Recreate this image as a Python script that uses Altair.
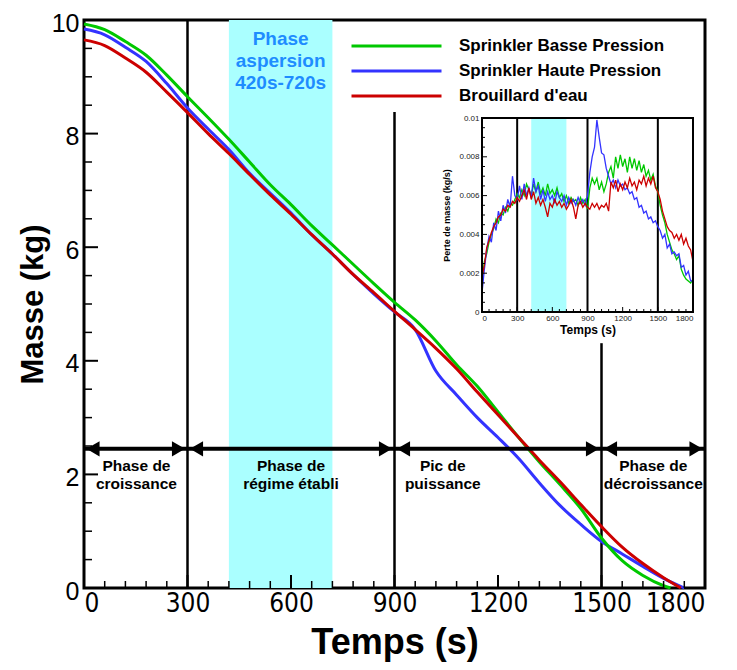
import altair as alt
import pandas as pd

SERIES = ["Sprinkler Basse Pression", "Sprinkler Haute Pression", "Brouillard d'eau"]
COLORS = ["#00c800", "#3333ff", "#cc0000"]

# ---- main chart: mass (kg) vs time (s)
green_t = [0, 60, 120, 180, 240, 300, 360, 420, 480, 540, 600, 660, 720, 780, 840, 900,
           960, 1020, 1080, 1140, 1200, 1260, 1320, 1380, 1440, 1500, 1560, 1620, 1680, 1700]
green_m = [9.93, 9.83, 9.62, 9.38, 9.03, 8.65, 8.28, 7.90, 7.50, 7.10, 6.75, 6.38, 6.04, 5.70, 5.36, 5.03,
           4.72, 4.35, 3.93, 3.55, 3.10, 2.65, 2.22, 1.82, 1.40, 0.88, 0.48, 0.22, 0.04, 0.0]
blue_t = [0, 60, 120, 180, 240, 300, 360, 420, 480, 540, 600, 660, 720, 780, 840, 900,
          960, 1020, 1080, 1140, 1200, 1260, 1320, 1380, 1440, 1500, 1560, 1620, 1680, 1740]
blue_m = [9.84, 9.74, 9.52, 9.27, 8.88, 8.45, 8.08, 7.72, 7.30, 6.95, 6.60, 6.22, 5.88, 5.52, 5.18, 4.86,
          4.55, 3.82, 3.40, 3.00, 2.65, 2.28, 1.85, 1.45, 1.12, 0.82, 0.60, 0.38, 0.17, 0.0]
red_t = [0, 60, 120, 180, 240, 300, 360, 420, 480, 540, 600, 660, 720, 780, 840, 900,
         960, 1020, 1080, 1140, 1200, 1260, 1320, 1380, 1440, 1500, 1560, 1620, 1680, 1730]
red_m = [9.65, 9.55, 9.33, 9.08, 8.73, 8.37, 8.00, 7.65, 7.28, 6.92, 6.58, 6.22, 5.88, 5.52, 5.20, 4.87,
         4.55, 4.22, 3.86, 3.45, 3.05, 2.65, 2.25, 1.87, 1.47, 1.08, 0.72, 0.43, 0.18, 0.0]

# ---- inset: mass loss rate (kg/s), every 20 s from 0 to 1800
rate_t = list(range(0, 1801, 20))
rate_blue = [
    0.0010, 0.0022, 0.0032, 0.0039, 0.0036, 0.0046, 0.0042, 0.0052, 0.0047, 0.0055,
    0.0051, 0.0058, 0.0054, 0.0070, 0.0060, 0.0058, 0.0065, 0.0058, 0.0066, 0.0060,
    0.0064, 0.0059, 0.0069, 0.0062, 0.0065, 0.0058, 0.0063, 0.0057, 0.0062, 0.0058,
    0.0060, 0.0056, 0.0062, 0.0059, 0.0057, 0.0060, 0.0055, 0.0059, 0.0056, 0.0058,
    0.0055, 0.0059, 0.0056, 0.0058, 0.0055, 0.0060, 0.0072, 0.0080, 0.0085, 0.0099,
    0.0090, 0.0082, 0.0081, 0.0074, 0.0070, 0.0066, 0.0068, 0.0064, 0.0068, 0.0065,
    0.0066, 0.0063, 0.0064, 0.0061, 0.0062, 0.0058, 0.0059, 0.0054, 0.0055, 0.0051,
    0.0052, 0.0048, 0.0049, 0.0046, 0.0047, 0.0044, 0.0042, 0.0038, 0.0040, 0.0033,
    0.0035, 0.0030, 0.0031, 0.0029, 0.0030, 0.0023, 0.0024, 0.0019, 0.0021, 0.0016,
    0.0016]
rate_green = [
    0.0015, 0.0026, 0.0030, 0.0036, 0.0040, 0.0043, 0.0048, 0.0046, 0.0051, 0.0050,
    0.0054, 0.0052, 0.0056, 0.0055, 0.0058, 0.0061, 0.0059, 0.0063, 0.0060, 0.0066,
    0.0063, 0.0060, 0.0066, 0.0062, 0.0067, 0.0061, 0.0064, 0.0060, 0.0066, 0.0061,
    0.0063, 0.0060, 0.0064, 0.0059, 0.0061, 0.0057, 0.0060, 0.0056, 0.0059, 0.0057,
    0.0058, 0.0055, 0.0059, 0.0056, 0.0058, 0.0053, 0.0064, 0.0069, 0.0066, 0.0069,
    0.0063, 0.0067, 0.0062, 0.0066, 0.0072, 0.0075, 0.0069, 0.0080, 0.0074, 0.0081,
    0.0075, 0.0079, 0.0072, 0.0080, 0.0074, 0.0079, 0.0073, 0.0078, 0.0072, 0.0076,
    0.0070, 0.0073, 0.0068, 0.0071, 0.0065, 0.0062, 0.0055, 0.0050, 0.0046, 0.0040,
    0.0036, 0.0032, 0.0030, 0.0027, 0.0029, 0.0022, 0.0019, 0.0017, 0.0016, 0.0015,
    0.0017]
rate_red = [
    0.0018, 0.0024, 0.0033, 0.0037, 0.0041, 0.0044, 0.0046, 0.0049, 0.0050, 0.0053,
    0.0052, 0.0055, 0.0054, 0.0057, 0.0056, 0.0059, 0.0057, 0.0060, 0.0063, 0.0058,
    0.0064, 0.0058, 0.0062, 0.0056, 0.0059, 0.0055, 0.0058, 0.0054, 0.0049, 0.0056,
    0.0054, 0.0058, 0.0055, 0.0057, 0.0054, 0.0056, 0.0053, 0.0055, 0.0058, 0.0054,
    0.0048, 0.0055, 0.0057, 0.0054, 0.0056, 0.0054, 0.0053, 0.0056, 0.0054, 0.0056,
    0.0053, 0.0055, 0.0054, 0.0056, 0.0052, 0.0067, 0.0064, 0.0068, 0.0062, 0.0066,
    0.0063, 0.0067, 0.0064, 0.0069, 0.0065, 0.0067, 0.0063, 0.0068, 0.0066, 0.0070,
    0.0065, 0.0069, 0.0066, 0.0070, 0.0064, 0.0062, 0.0058, 0.0052, 0.0048, 0.0044,
    0.0042, 0.0041, 0.0038, 0.0040, 0.0037, 0.0040, 0.0035, 0.0038, 0.0034, 0.0032,
    0.0026]

# ---- annotations
band_start, band_end = [420], [720]
vline_x = [300, 900, 1500]
vline_top = [10, 8.38, 4.31]
arrow_start = [0, 300, 900, 1500]
arrow_end = [300, 900, 1500, 1800]
arrow_y = 2.45
phase_x = [152, 600, 1040, 1650]
phase_text = ["Phase de\ncroissance", "Phase de\nrégime établi", "Pic de\npuissance", "Phase de\ndécroissance"]
phase_y = 2.27
asp_x, asp_y = 570, 9.82
asp_text = "Phase\naspersion\n420s-720s"

x_labels = [0, 300, 600, 900, 1200, 1500, 1800]
y_labels = [0, 2, 4, 6, 8, 10]
inset_y_labels = [0, 0.002, 0.004, 0.006, 0.008, 0.01]

W, H = 621, 568
IN_X = [398, 609]
IN_Y = [292, 98]
FONT = "Liberation Sans"
NARROW = "Liberation Sans Narrow, DejaVu Sans Condensed, Liberation Sans"

mass_df = pd.concat([
    pd.DataFrame({"t": green_t, "m": green_m, "serie": SERIES[0]}),
    pd.DataFrame({"t": blue_t, "m": blue_m, "serie": SERIES[1]}),
    pd.DataFrame({"t": red_t, "m": red_m, "serie": SERIES[2]}),
])
rate_df = pd.concat([
    pd.DataFrame({"t": rate_t, "r": rate_green, "serie": SERIES[0]}),
    pd.DataFrame({"t": rate_t, "r": rate_blue, "serie": SERIES[1]}),
    pd.DataFrame({"t": rate_t, "r": rate_red, "serie": SERIES[2]}),
])

xs = alt.Scale(domain=[0, 1800], range=[0, W], nice=False, zero=False)
ys = alt.Scale(domain=[0, 10], range=[H, 0], nice=False, zero=False)
cscale = alt.Scale(domain=SERIES, range=COLORS)

band = alt.Chart(pd.DataFrame({"a": band_start, "b": band_end})).mark_rect(color="#aaffff").encode(
    x=alt.X("a:Q", scale=xs, axis=None), x2="b:Q", y=alt.value(0), y2=alt.value(H))

vlines = alt.Chart(pd.DataFrame({"x": vline_x, "y0": [0, 0, 0], "y1": vline_top})).mark_rule(
    color="black", strokeWidth=2.5).encode(
    x=alt.X("x:Q", scale=xs, axis=None), y=alt.Y("y0:Q", scale=ys, axis=None), y2="y1:Q")

main_x_axis = alt.Axis(
    orient="bottom", values=x_labels, format="d", ticks=False, domain=False, grid=False,
    labelFont=NARROW, labelFontSize=26, labelColor="black", labelPadding=2,
    title="Temps (s)", titleFont=FONT, titleFontSize=36, titleFontWeight="bold",
    titleColor="black", titlePadding=9)
main_y_axis = alt.Axis(
    orient="left", values=y_labels, format="d", ticks=False, domain=False, grid=False,
    labelFont=FONT, labelFontSize=25, labelColor="black", labelPadding=5, labelOffset=3,
    title="Masse (kg)", titleFont=FONT, titleFontSize=31, titleFontWeight="bold",
    titleColor="black", titlePadding=2)

mass_layers = []
for i, s in enumerate([SERIES[1], SERIES[0], SERIES[2]]):
    first = i == 0
    mass_layers.append(
        alt.Chart(mass_df[mass_df.serie == s]).mark_line(strokeWidth=3, interpolate="monotone").encode(
            x=alt.X("t:Q", scale=xs, axis=main_x_axis if first else None),
            y=alt.Y("m:Q", scale=ys, axis=main_y_axis if first else None),
            color=alt.Color("serie:N", scale=cscale, legend=alt.Legend(
                title=None, orient="none", legendX=266, legendY=14,
                symbolType="stroke", symbolSize=8100, symbolStrokeWidth=3,
                labelFont=FONT, labelFontWeight="bold", labelFontSize=17, labelLimit=400,
                labelColor="black", labelOffset=16, clipHeight=24, rowPadding=1)))
    )

arrow_df = pd.DataFrame({"a": arrow_start, "b": arrow_end, "y": [arrow_y] * 4})
arrow_line = alt.Chart(arrow_df).mark_rule(color="black", strokeWidth=4).encode(
    x=alt.X("a:Q", scale=xs, axis=None), x2="b:Q", y=alt.Y("y:Q", scale=ys, axis=None))
arrow_l = alt.Chart(arrow_df).mark_point(shape="triangle-left", filled=True, color="black",
                                         size=230, opacity=1, xOffset=9).encode(
    x=alt.X("a:Q", scale=xs, axis=None), y=alt.Y("y:Q", scale=ys, axis=None))
arrow_r = alt.Chart(arrow_df).mark_point(shape="triangle-right", filled=True, color="black",
                                         size=230, opacity=1, xOffset=-9).encode(
    x=alt.X("b:Q", scale=xs, axis=None), y=alt.Y("y:Q", scale=ys, axis=None))

phase_lbl = alt.Chart(pd.DataFrame({"x": phase_x, "y": [phase_y] * 4, "txt": phase_text})).mark_text(
    font=FONT, fontSize=15.5, fontWeight="bold", color="black", baseline="top", align="center",
    lineBreak="\n", lineHeight=18).encode(
    x=alt.X("x:Q", scale=xs, axis=None), y=alt.Y("y:Q", scale=ys, axis=None), text="txt:N")

asp_lbl = alt.Chart(pd.DataFrame({"x": [asp_x], "y": [asp_y], "txt": [asp_text]})).mark_text(
    font=FONT, fontSize=19, fontWeight="bold", color="#1e8cff", baseline="top", align="center",
    lineBreak="\n", lineHeight=22).encode(
    x=alt.X("x:Q", scale=xs, axis=None), y=alt.Y("y:Q", scale=ys, axis=None), text="txt:N")

x_major = [300, 600, 900, 1200, 1500]
x_minor = [v for v in range(60, 1800, 60) if v % 300 != 0]
y_major = [2, 4, 6, 8]
y_minor = [v / 2 for v in range(1, 20) if v % 4 != 0]

xt_major = alt.Chart(pd.DataFrame({"x": x_major})).mark_rule(color="black", strokeWidth=2).encode(
    x=alt.X("x:Q", scale=xs, axis=None), y=alt.value(H), y2=alt.value(H - 13))
xt_minor = alt.Chart(pd.DataFrame({"x": x_minor})).mark_rule(color="black", strokeWidth=1.5).encode(
    x=alt.X("x:Q", scale=xs, axis=None), y=alt.value(H), y2=alt.value(H - 7))
yt_major = alt.Chart(pd.DataFrame({"y": y_major})).mark_rule(color="black", strokeWidth=2).encode(
    y=alt.Y("y:Q", scale=ys, axis=None), x=alt.value(0), x2=alt.value(14))
yt_minor = alt.Chart(pd.DataFrame({"y": y_minor})).mark_rule(color="black", strokeWidth=1.5).encode(
    y=alt.Y("y:Q", scale=ys, axis=None), x=alt.value(0), x2=alt.value(8))

# ---- inset
xi = alt.Scale(domain=[0, 1800], range=IN_X, nice=False, zero=False)
yi = alt.Scale(domain=[0, 0.01], range=IN_Y, nice=False, zero=False)

in_frame = alt.Chart(pd.DataFrame({"a": [0], "b": [1800], "c": [0], "d": [0.01]})).mark_rect(
    fill="white", stroke="black", strokeWidth=2).encode(
    x=alt.X("a:Q", scale=xi, axis=None), x2="b:Q", y=alt.Y("c:Q", scale=yi, axis=None), y2="d:Q")
in_band = alt.Chart(pd.DataFrame({"a": band_start, "b": band_end, "c": [0], "d": [0.01]})).mark_rect(
    color="#aaffff").encode(
    x=alt.X("a:Q", scale=xi, axis=None), x2="b:Q", y=alt.Y("c:Q", scale=yi, axis=None), y2="d:Q")
in_vlines = alt.Chart(pd.DataFrame({"x": vline_x, "c": [0, 0, 0], "d": [0.01] * 3})).mark_rule(
    color="black", strokeWidth=2).encode(
    x=alt.X("x:Q", scale=xi, axis=None), y=alt.Y("c:Q", scale=yi, axis=None), y2="d:Q")
in_lines = alt.Chart(rate_df).mark_line(strokeWidth=1.3).encode(
    x=alt.X("t:Q", scale=xi, axis=alt.Axis(
        orient="bottom", offset=-(H - IN_Y[0]), values=x_labels, format="d", ticks=False,
        domain=False, grid=False, labelFont=FONT, labelFontSize=8, labelColor="#222222",
        labelPadding=2, title="Temps (s)", titleFont=FONT, titleFontSize=12,
        titleFontWeight="bold", titleColor="black", titlePadding=2)),
    y=alt.Y("r:Q", scale=yi, axis=alt.Axis(
        orient="left", offset=-IN_X[0], values=inset_y_labels, format=".3~f", ticks=False,
        domain=False, grid=False, labelFont=FONT, labelFontSize=8, labelColor="#222222",
        labelPadding=3, title="Perte de masse (kg/s)", titleFont=FONT, titleFontSize=9,
        titleFontWeight="bold", titleColor="black", titlePadding=7)),
    color=alt.Color("serie:N", scale=cscale, legend=None),
    order=alt.Order("t:Q"),
)
in_xt_major = alt.Chart(pd.DataFrame({"x": x_major})).mark_rule(color="black", strokeWidth=1).encode(
    x=alt.X("x:Q", scale=xi, axis=None), y=alt.value(IN_Y[0]), y2=alt.value(IN_Y[0] - 5))
in_xt_minor = alt.Chart(pd.DataFrame({"x": x_minor})).mark_rule(color="black", strokeWidth=1).encode(
    x=alt.X("x:Q", scale=xi, axis=None), y=alt.value(IN_Y[0]), y2=alt.value(IN_Y[0] - 3))
in_y_major = [0.002, 0.004, 0.006, 0.008]
in_y_minor = [v / 10000 for v in range(5, 100, 5) if v % 20 != 0]
in_yt_major = alt.Chart(pd.DataFrame({"y": in_y_major})).mark_rule(color="black", strokeWidth=1).encode(
    y=alt.Y("y:Q", scale=yi, axis=None), x=alt.value(IN_X[0]), x2=alt.value(IN_X[0] + 5))
in_yt_minor = alt.Chart(pd.DataFrame({"y": in_y_minor})).mark_rule(color="black", strokeWidth=1).encode(
    y=alt.Y("y:Q", scale=yi, axis=None), x=alt.value(IN_X[0]), x2=alt.value(IN_X[0] + 3))
in_border = alt.Chart(pd.DataFrame({"a": [0], "b": [1800], "c": [0], "d": [0.01]})).mark_rect(
    fill=None, stroke="black", strokeWidth=2).encode(
    x=alt.X("a:Q", scale=xi, axis=None), x2="b:Q", y=alt.Y("c:Q", scale=yi, axis=None), y2="d:Q")

chart = alt.layer(
    band, vlines, *mass_layers, arrow_line, arrow_l, arrow_r, phase_lbl, asp_lbl,
    xt_major, xt_minor, yt_major, yt_minor,
    in_frame, in_band, in_vlines, in_lines, in_xt_major, in_xt_minor,
    in_yt_major, in_yt_minor, in_border,
).resolve_scale(x="independent", y="independent").properties(
    width=W, height=H, background="white",
    autosize=alt.AutoSizeParams(type="none"),
    padding={"left": 76, "top": 12, "right": 24, "bottom": 74},
).configure_view(stroke="black", strokeWidth=3)

chart.save("out.html", embed_options={"renderer": "svg", "actions": False})
